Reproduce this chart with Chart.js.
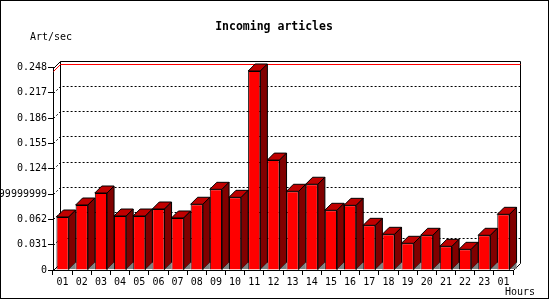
<!DOCTYPE html>
<html>
<head>
<meta charset="utf-8">
<script src="https://cdn.jsdelivr.net/npm/chart.js@4/dist/chart.umd.min.js"></script>
<style>
  html, body { margin: 0; padding: 0; background: #fff; }
  #wrap { width: 550px; height: 300px; }
</style>
</head>
<body>
<div id="wrap"><canvas id="myChart" width="550" height="300"></canvas></div>
<script>
let hours = ['01', '02', '03', '04', '05', '06', '07', '08', '09', '10', '11', '12',
  '13', '14', '15', '16', '17', '18', '19', '20', '21', '22', '23', '01']
let articles = [0.0649, 0.0796, 0.0943, 0.0661, 0.0661, 0.0747, 0.0637, 0.0805,
  0.0988, 0.0890, 0.2437, 0.1346, 0.0964, 0.1050, 0.0731, 0.0792,
  0.0547, 0.0437, 0.0327, 0.0425, 0.0290, 0.0253, 0.0425, 0.0682]
let yTicks = [0, 0.031, 0.062, 0.093, 0.124, 0.155, 0.186, 0.217, 0.248]
let yLabels = ['0', '0.031', '0.062', '0.09299999999999999', '0.124', '0.155', '0.186', '0.217', '0.248']

let depth = 7
let mono = "'DejaVu Sans Mono', monospace"

function line(ctx, pts, color, dash) {
  ctx.save()
  ctx.strokeStyle = color
  ctx.lineWidth = 1
  ctx.setLineDash(dash || [])
  ctx.beginPath()
  pts.forEach((p, i) => i ? ctx.lineTo(p[0], p[1]) : ctx.moveTo(p[0], p[1]))
  ctx.stroke()
  ctx.restore()
}

function poly(ctx, pts, fill) {
  ctx.beginPath()
  pts.forEach((p, i) => i ? ctx.lineTo(p[0], p[1]) : ctx.moveTo(p[0], p[1]))
  ctx.closePath()
  ctx.fillStyle = fill
  ctx.fill()
  ctx.strokeStyle = '#000'
  ctx.lineWidth = 1
  ctx.stroke()
}

let threeD = {
  id: 'threeD',
  beforeDraw(chart) {
    let ctx = chart.ctx
    ctx.save()
    ctx.fillStyle = '#fff'
    ctx.fillRect(0, 0, chart.width, chart.height)
    ctx.restore()
  },
  beforeDatasetsDraw(chart) {
    let ctx = chart.ctx
    let a = chart.chartArea
    let y = chart.scales.y
    let L = Math.round(a.left) + 0.5
    let R = Math.round(a.right) + 0.5
    let T = Math.round(a.top) + 0.5
    let B = Math.round(a.bottom) + 0.5

    // dotted grid on the back wall
    yTicks.slice(1, -1).forEach((v) => {
      let py = Math.round(y.getPixelForValue(v)) + 0.5
      line(ctx, [[L, py], [L + depth, py - depth], [R + depth, py - depth]], '#000', [2, 2])
    })

    // back wall frame
    line(ctx, [[L, T], [L + depth, T - depth], [R + depth, T - depth], [R + depth, B - depth], [R, B]], '#000')
    line(ctx, [[L + depth, T - depth], [L + depth, B - depth]], '#000')
    line(ctx, [[L, B], [L + depth, B - depth]], '#000')

    // maximum line
    let my = Math.round(y.getPixelForValue(Math.max(...articles))) + 0.5
    line(ctx, [[L, my], [L + depth, my - depth], [R + depth, my - depth]], '#ff0000')
  },
  afterDatasetsDraw(chart) {
    let ctx = chart.ctx
    ctx.save()
    chart.getDatasetMeta(0).data.forEach((bar) => {
      let w = bar.width
      let l = bar.x - w / 2
      let r = bar.x + w / 2
      let t = bar.y
      let b = bar.base
      poly(ctx, [[l, t], [r, t], [r + depth, t - depth], [l + depth, t - depth]], '#c00000')
      poly(ctx, [[r, t], [r + depth, t - depth], [r + depth, b - depth], [r, b]], '#800000')
      ctx.beginPath()
      ctx.moveTo(r + 0.5, b - 0.5)
      ctx.lineTo(r + depth, b - depth)
      ctx.lineTo(r + depth, b - 0.5)
      ctx.closePath()
      ctx.fillStyle = '#808080'
      ctx.fill()
    })
    ctx.restore()
  },
  afterDraw(chart) {
    let ctx = chart.ctx
    ctx.save()
    ctx.fillStyle = '#000'
    ctx.textBaseline = 'middle'
    ctx.font = 'bold 11.5px ' + mono
    ctx.textAlign = 'center'
    ctx.fillText('Incoming articles', 274, 27)
    ctx.font = '10px ' + mono
    ctx.textAlign = 'left'
    ctx.fillText('Art/sec', 30, 37)
    ctx.fillText('Hours', 505, 292)
    ctx.strokeStyle = '#000'
    ctx.lineWidth = 1
    ctx.strokeRect(0.5, 0.5, 548, 298)
    ctx.restore()
  }
}

let myChart = document.getElementById('myChart').getContext('2d')
let incoming = new Chart(myChart, {
  type: 'bar',
  data: {
    labels: hours,
    datasets: [
      {
        label: 'Art/sec',
        data: articles,
        backgroundColor: '#ff0000',
        borderColor: '#000',
        borderWidth: 1,
        barPercentage: 0.64,
        categoryPercentage: 1
      }
    ]
  },
  options: {
    responsive: false,
    devicePixelRatio: 1,
    animation: false,
    events: [],
    layout: {
      padding: { left: 0, top: 67.5, right: 37, bottom: 0 }
    },
    plugins: {
      legend: { display: false },
      title: { display: false },
      tooltip: { enabled: false }
    },
    scales: {
      x: {
        afterFit: (scale) => { scale.height = 30 },
        grid: { drawOnChartArea: false, drawTicks: true, tickLength: 5, color: '#000', offset: true },
        border: { color: '#000' },
        ticks: {
          color: '#000',
          font: { family: mono, size: 10 },
          maxRotation: 0,
          autoSkip: false,
          padding: 1
        }
      },
      y: {
        min: 0,
        max: 0.248,
        afterFit: (scale) => { scale.width = 53 },
        afterBuildTicks: (scale) => { scale.ticks = yTicks.map((v) => ({ value: v })) },
        grid: { drawOnChartArea: false, drawTicks: true, tickLength: 5, color: '#000' },
        border: { color: '#000' },
        ticks: {
          color: '#000',
          font: { family: mono, size: 10 },
          padding: 1,
          callback: (v, i) => yLabels[i]
        }
      }
    }
  },
  plugins: [threeD]
})
</script>
</body>
</html>
